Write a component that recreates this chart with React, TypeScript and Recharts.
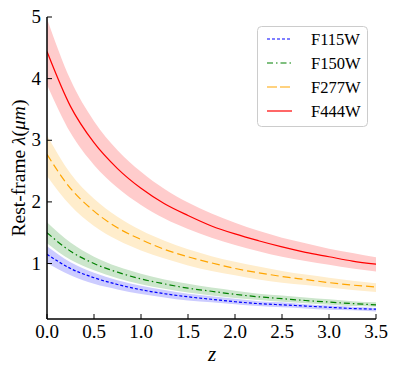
import {
	ComposedChart,
	Area,
	Line,
	XAxis,
	YAxis,
} from 'recharts';

// redshift grid
const zs = [0, 0.25, 0.5, 0.75, 1, 1.25, 1.5, 1.75, 2, 2.25, 2.5, 2.75, 3, 3.25, 3.5];

// rest-frame wavelength (um)
const f115 = [1.15, 0.92, 0.77, 0.66, 0.575, 0.51, 0.46, 0.42, 0.38, 0.35, 0.33, 0.31, 0.29, 0.27, 0.26];
const f115Lo = [1.01, 0.81, 0.67, 0.58, 0.505, 0.45, 0.4, 0.37, 0.34, 0.31, 0.29, 0.27, 0.25, 0.24, 0.22];
const f115Hi = [1.28, 1.02, 0.85, 0.73, 0.64, 0.57, 0.51, 0.47, 0.43, 0.39, 0.37, 0.34, 0.32, 0.3, 0.28];

const f150 = [1.5, 1.2, 1.0, 0.86, 0.75, 0.67, 0.6, 0.55, 0.5, 0.46, 0.43, 0.4, 0.375, 0.35, 0.33];
const f150Lo = [1.33, 1.06, 0.89, 0.76, 0.665, 0.59, 0.53, 0.48, 0.44, 0.41, 0.38, 0.355, 0.33, 0.31, 0.3];
const f150Hi = [1.67, 1.34, 1.11, 0.95, 0.835, 0.74, 0.67, 0.61, 0.56, 0.51, 0.48, 0.45, 0.42, 0.39, 0.37];

const f277 = [2.77, 2.22, 1.85, 1.58, 1.39, 1.23, 1.11, 1.01, 0.92, 0.85, 0.79, 0.74, 0.69, 0.65, 0.62];
const f277Lo = [2.42, 1.94, 1.61, 1.38, 1.21, 1.08, 0.97, 0.88, 0.81, 0.74, 0.69, 0.65, 0.61, 0.57, 0.54];
const f277Hi = [3.08, 2.46, 2.05, 1.76, 1.54, 1.37, 1.23, 1.12, 1.03, 0.95, 0.88, 0.82, 0.77, 0.72, 0.68];

const f444 = [4.44, 3.55, 2.96, 2.54, 2.22, 1.97, 1.78, 1.61, 1.48, 1.37, 1.27, 1.18, 1.11, 1.04, 0.99];
const f444Lo = [3.9, 3.12, 2.6, 2.23, 1.95, 1.73, 1.56, 1.42, 1.3, 1.2, 1.11, 1.04, 0.98, 0.92, 0.87];
const f444Hi = [4.97, 3.98, 3.31, 2.84, 2.49, 2.21, 1.99, 1.81, 1.66, 1.53, 1.42, 1.33, 1.24, 1.17, 1.1];

const xTicks = [0, 0.5, 1, 1.5, 2, 2.5, 3, 3.5];
const yTicks = [1, 2, 3, 4, 5];

const legendItems = [
	{name: 'F115W', color: '#0000ff', dash: '3 2'},
	{name: 'F150W', color: '#008000', dash: '6 3 1.5 3'},
	{name: 'F277W', color: '#ffa500', dash: '10 3'},
	{name: 'F444W', color: '#ff0000', dash: undefined},
];

const data = zs.map((z, i) => ({
	z,
	f115: f115[i],
	f115b: [f115Lo[i], f115Hi[i]],
	f150: f150[i],
	f150b: [f150Lo[i], f150Hi[i]],
	f277: f277[i],
	f277b: [f277Lo[i], f277Hi[i]],
	f444: f444[i],
	f444b: [f444Lo[i], f444Hi[i]],
}));

const FONT = 'Liberation Serif, Times New Roman, serif';

function BottomTick(props: any) {
	const {x, y, payload} = props;
	return (
		<g>
			<line x1={x} x2={x} y1={y} y2={y - 5} stroke="#000" />
			<text x={x} y={y + 19} textAnchor="middle" style={{fontSize: 19, fontFamily: FONT}} fill="#000">
				{payload.value.toFixed(1)}
			</text>
		</g>
	);
}

function TopTick(props: any) {
	const {x, y} = props;
	return <line x1={x} x2={x} y1={y} y2={y + 5} stroke="#000" />;
}

function LeftTick(props: any) {
	const {x, y, payload} = props;
	return (
		<g>
			<line x1={x} x2={x + 5} y1={y} y2={y} stroke="#000" />
			<text x={x - 6} y={y + 6} textAnchor="end" style={{fontSize: 19, fontFamily: FONT}} fill="#000">
				{payload.value}
			</text>
		</g>
	);
}

function RightTick(props: any) {
	const {x, y} = props;
	return <line x1={x} x2={x - 5} y1={y} y2={y} stroke="#000" />;
}

export default function App() {
	return (
		<div style={{position: 'absolute', left: 0, top: 0, width: 397, height: 373, background: '#fff'}}>
			<ComposedChart
				width={397}
				height={373}
				data={data}
				margin={{top: 17, right: 21, left: 0, bottom: 0}}
			>
				<XAxis
					xAxisId="b"
					dataKey="z"
					type="number"
					domain={[0, 3.5]}
					ticks={xTicks}
					height={54}
					stroke="#000"
					strokeWidth={1.5}
					tickSize={0}
					tickMargin={0}
					tickLine={false}
					tick={<BottomTick />}
					interval={0}
					allowDataOverflow
				/>
				<XAxis
					xAxisId="t"
					orientation="top"
					dataKey="z"
					type="number"
					domain={[0, 3.5]}
					ticks={xTicks}
					height={0}
					stroke="#000"
					strokeWidth={1.5}
					tickSize={0}
					tickMargin={0}
					tickLine={false}
					tick={<TopTick />}
					interval={0}
					allowDataOverflow
				/>
				<YAxis
					yAxisId="l"
					type="number"
					domain={[0.1, 5]}
					ticks={yTicks}
					width={47}
					stroke="#000"
					strokeWidth={1.5}
					tickSize={0}
					tickMargin={0}
					tickLine={false}
					tick={<LeftTick />}
					interval={0}
					allowDataOverflow
				/>
				<YAxis
					yAxisId="r"
					orientation="right"
					type="number"
					domain={[0.1, 5]}
					ticks={yTicks}
					width={0}
					stroke="#000"
					strokeWidth={1.5}
					tickSize={0}
					tickMargin={0}
					tickLine={false}
					tick={<RightTick />}
					interval={0}
					allowDataOverflow
				/>
				<Area xAxisId="b" yAxisId="l" type="monotone" dataKey="f444b" fill="#ffcccc" fillOpacity={1} stroke="none" isAnimationActive={false} />
				<Area xAxisId="b" yAxisId="l" type="monotone" dataKey="f277b" fill="#ffedcc" fillOpacity={1} stroke="none" isAnimationActive={false} />
				<Area xAxisId="b" yAxisId="l" type="monotone" dataKey="f150b" fill="#cce6cc" fillOpacity={1} stroke="none" isAnimationActive={false} />
				<Area xAxisId="b" yAxisId="l" type="monotone" dataKey="f115b" fill="#ccccff" fillOpacity={1} stroke="none" isAnimationActive={false} />
				<Line xAxisId="b" yAxisId="l" type="monotone" dataKey="f115" stroke="#0000ff" strokeWidth={1.2} strokeDasharray="3 2" dot={false} isAnimationActive={false} />
				<Line xAxisId="b" yAxisId="l" type="monotone" dataKey="f150" stroke="#008000" strokeWidth={1.2} strokeDasharray="6 3 1.5 3" dot={false} isAnimationActive={false} />
				<Line xAxisId="b" yAxisId="l" type="monotone" dataKey="f277" stroke="#ffa500" strokeWidth={1.2} strokeDasharray="8 4" dot={false} isAnimationActive={false} />
				<Line xAxisId="b" yAxisId="l" type="monotone" dataKey="f444" stroke="#ff0000" strokeWidth={1.2} dot={false} isAnimationActive={false} />
				<g transform="translate(257 26)">
					<rect x={0.5} y={0.5} width={110} height={100} rx={4} fill="#fff" stroke="#ccc" />
					{legendItems.map((it, i) => (
						<g key={it.name}>
							<line
								x1={10}
								x2={35}
								y1={13 + i * 24}
								y2={13 + i * 24}
								stroke={it.color}
								strokeWidth={1.2}
								strokeDasharray={it.dash}
							/>
							<text x={54} y={19 + i * 24} style={{fontSize: 16.5, fontFamily: FONT}} fill="#000">
								{it.name}
							</text>
						</g>
					))}
				</g>
				<text
					x={18}
					y={168}
					transform="rotate(-90 18 168)"
					textAnchor="middle"
					dominantBaseline="central"
					style={{fontSize: 19.5, fontFamily: FONT}}
					fill="#000"
				>
					Rest-frame <tspan fontStyle="italic">λ</tspan>(<tspan fontStyle="italic">μm</tspan>)
				</text>
				<text x={212} y={361} textAnchor="middle" fontStyle="italic" style={{fontSize: 21, fontFamily: FONT}} fill="#000">
					z
				</text>
			</ComposedChart>
		</div>
	);
}
